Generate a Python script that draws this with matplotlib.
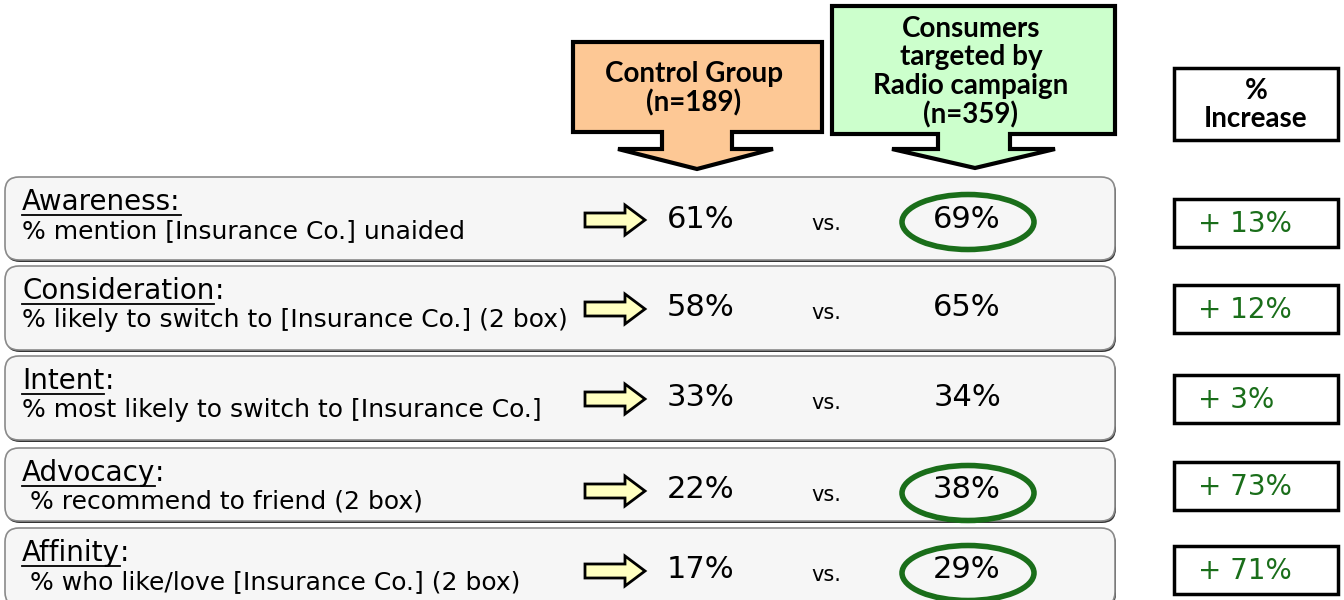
import matplotlib
matplotlib.use('Agg')
import matplotlib.pyplot as plt
from matplotlib.patches import FancyBboxPatch, Polygon, Ellipse, Rectangle

# data
metrics = ['Awareness', 'Consideration', 'Intent', 'Advocacy', 'Affinity']
colon_underlined = [True, False, False, False, False]
descriptions = ['% mention [Insurance Co.] unaided',
                '% likely to switch to [Insurance Co.] (2 box)',
                '% most likely to switch to [Insurance Co.]',
                ' % recommend to friend (2 box)',
                ' % who like/love [Insurance Co.] (2 box)']
control_pct = [61, 58, 33, 22, 17]
radio_pct = [69, 65, 34, 38, 29]
increase_pct = [13, 12, 3, 73, 71]
circled = [True, False, False, True, True]
control_label = 'Control Group\n(n=189)'
radio_label = 'Consumers\ntargeted by\nRadio campaign\n(n=359)'
increase_label = '%\nIncrease'

# layout (pixels)
row_top = [177, 266, 356, 448, 528]
row_bot = [260, 350, 440, 521, 606]
inc_center = [223, 309, 399, 486, 570]

GREEN = '#1a6e1a'

fig = plt.figure(figsize=(13.44, 6), dpi=100)
ax = fig.add_axes([0, 0, 1, 1])
ax.set_xlim(0, 1344)
ax.set_ylim(600, 0)
ax.axis('off')


def down_arrow(ax, x0, x1, y0, y1, sx0, sx1, hx0, hx1, hy, tip, color):
    pts = [(x0, y0), (x1, y0), (x1, y1), (sx1, y1), (sx1, hy), (hx1, hy),
           (tip[0], tip[1]), (hx0, hy), (sx0, hy), (sx0, y1), (x0, y1)]
    ax.add_patch(Polygon(pts, closed=True, facecolor=color, edgecolor='black',
                         linewidth=3, joinstyle='miter', zorder=2))


down_arrow(ax, 573, 822, 42, 132, 662, 732, 618, 773, 149, (697, 169), '#fdc895')
down_arrow(ax, 832, 1115, 6, 134, 938, 1010, 892, 1055, 149, (975, 168), '#ccffcc')
hdr = dict(ha='center', va='center', fontsize=20, fontweight='bold', family='Lato',
           linespacing=1.12, zorder=3)
ax.text(694, 89, control_label, **hdr)
ax.text(971, 72, radio_label, **hdr)

ax.add_patch(Rectangle((1174, 68), 164, 72, facecolor='white', edgecolor='black',
                       linewidth=2.5, zorder=2))
ax.text(1256, 105, increase_label, **hdr)

fig.canvas.draw()
renderer = fig.canvas.get_renderer()
inv = ax.transData.inverted()

for i, m in enumerate(metrics):
    top, bot = row_top[i], row_bot[i]
    h = bot - top
    # shadow + box
    ax.add_patch(FancyBboxPatch((6, top + 2), 1110, h, boxstyle='round,pad=0,rounding_size=14',
                                facecolor='#333333', edgecolor='none', zorder=1))
    ax.add_patch(FancyBboxPatch((5, top), 1110, h, boxstyle='round,pad=0,rounding_size=14',
                                facecolor='#f6f6f6', edgecolor='#8a8a8a', linewidth=1.2, zorder=1.5))
    ty = top + 25
    label = m + ':' if colon_underlined[i] else m
    t = ax.text(22, ty, label, ha='left', va='center', fontsize=20, zorder=3)
    bb = t.get_window_extent(renderer)
    (xa, ya), (xb, yb) = inv.transform([(bb.x0, bb.y0), (bb.x1, bb.y1)])
    ax.plot([xa, xb], [ya - 1, ya - 1], color='black', linewidth=1.3, zorder=3)
    if not colon_underlined[i]:
        ax.text(xb, ty, ':', ha='left', va='center', fontsize=20, zorder=3)
    ax.text(22, top + 54, descriptions[i], ha='left', va='center', fontsize=18, zorder=3)

    # yellow arrow
    ay = top + 43
    pts = [(585, ay - 7), (625, ay - 7), (625, ay - 15), (645, ay), (625, ay + 15),
           (625, ay + 7), (585, ay + 7)]
    ax.add_patch(Polygon(pts, closed=True, facecolor='#ffffc0', edgecolor='black',
                         linewidth=2, joinstyle='miter', zorder=3))

    vy = top + 42
    ax.text(701, vy, f'{control_pct[i]}%', ha='center', va='center', fontsize=22, zorder=3)
    ax.text(826, vy + 5, 'vs.', ha='center', va='center', fontsize=15, zorder=3)
    ax.text(967, vy, f'{radio_pct[i]}%', ha='center', va='center', fontsize=22, zorder=3)
    if circled[i]:
        ax.add_patch(Ellipse((968, vy + 3), 132, 55, facecolor='none', edgecolor=GREEN,
                             linewidth=4, zorder=3))

    # increase box
    cy = inc_center[i]
    ax.add_patch(Rectangle((1174, cy - 24), 164, 48, facecolor='white', edgecolor='black',
                           linewidth=2.5, zorder=2))
    ax.text(1198, cy + 1, f'+ {increase_pct[i]}%', ha='left', va='center', fontsize=20,
            color=GREEN, zorder=3)

fig.savefig('out.png', dpi=100)
